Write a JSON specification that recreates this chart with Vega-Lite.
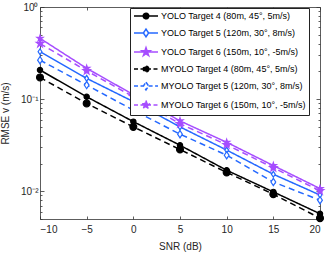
{
  "$schema": "https://vega.github.io/schema/vega-lite/v6.json",
  "width": 280,
  "height": 212,
  "autosize": "none",
  "padding": {"left": 40, "top": 7, "right": 7, "bottom": 34},
  "background": "white",
  "config": {
    "font": "Liberation Sans",
    "view": {"stroke": null},
    "axis": {
      "grid": false,
      "domainColor": "#333333",
      "domainWidth": 0.8,
      "tickColor": "#333333",
      "tickWidth": 0.8,
      "labelColor": "#262626",
      "labelFont": "Liberation Sans",
      "labelFontSize": 10,
      "titleFont": "Liberation Sans",
      "titleFontSize": 10,
      "titleFontWeight": "normal",
      "titleColor": "#262626"
    }
  },
  "data": {
    "values": [
      {"snr": -10, "rmse": 0.207, "series": "YOLO Target 4 (80m, 45°, 5m/s)"},
      {"snr": -5, "rmse": 0.106, "series": "YOLO Target 4 (80m, 45°, 5m/s)"},
      {"snr": 0, "rmse": 0.057, "series": "YOLO Target 4 (80m, 45°, 5m/s)"},
      {"snr": 5, "rmse": 0.0316, "series": "YOLO Target 4 (80m, 45°, 5m/s)"},
      {"snr": 10, "rmse": 0.0169, "series": "YOLO Target 4 (80m, 45°, 5m/s)"},
      {"snr": 15, "rmse": 0.00984, "series": "YOLO Target 4 (80m, 45°, 5m/s)"},
      {"snr": 20, "rmse": 0.0057, "series": "YOLO Target 4 (80m, 45°, 5m/s)"},
      {"snr": -10, "rmse": 0.327, "series": "YOLO Target 5 (120m, 30°, 8m/s)"},
      {"snr": -5, "rmse": 0.168, "series": "YOLO Target 5 (120m, 30°, 8m/s)"},
      {"snr": 0, "rmse": 0.094, "series": "YOLO Target 5 (120m, 30°, 8m/s)"},
      {"snr": 5, "rmse": 0.05, "series": "YOLO Target 5 (120m, 30°, 8m/s)"},
      {"snr": 10, "rmse": 0.028, "series": "YOLO Target 5 (120m, 30°, 8m/s)"},
      {"snr": 15, "rmse": 0.0153, "series": "YOLO Target 5 (120m, 30°, 8m/s)"},
      {"snr": 20, "rmse": 0.0091, "series": "YOLO Target 5 (120m, 30°, 8m/s)"},
      {"snr": -10, "rmse": 0.457, "series": "YOLO Target 6 (150m, 10°, -5m/s)"},
      {"snr": -5, "rmse": 0.216, "series": "YOLO Target 6 (150m, 10°, -5m/s)"},
      {"snr": 0, "rmse": 0.112, "series": "YOLO Target 6 (150m, 10°, -5m/s)"},
      {"snr": 5, "rmse": 0.058, "series": "YOLO Target 6 (150m, 10°, -5m/s)"},
      {"snr": 10, "rmse": 0.034, "series": "YOLO Target 6 (150m, 10°, -5m/s)"},
      {"snr": 15, "rmse": 0.019, "series": "YOLO Target 6 (150m, 10°, -5m/s)"},
      {"snr": 20, "rmse": 0.0107, "series": "YOLO Target 6 (150m, 10°, -5m/s)"},
      {"snr": -10, "rmse": 0.172, "series": "MYOLO Target 4 (80m, 45°, 5m/s)"},
      {"snr": -5, "rmse": 0.0898, "series": "MYOLO Target 4 (80m, 45°, 5m/s)"},
      {"snr": 0, "rmse": 0.05, "series": "MYOLO Target 4 (80m, 45°, 5m/s)"},
      {"snr": 5, "rmse": 0.0284, "series": "MYOLO Target 4 (80m, 45°, 5m/s)"},
      {"snr": 10, "rmse": 0.016, "series": "MYOLO Target 4 (80m, 45°, 5m/s)"},
      {"snr": 15, "rmse": 0.0093, "series": "MYOLO Target 4 (80m, 45°, 5m/s)"},
      {"snr": 20, "rmse": 0.0051, "series": "MYOLO Target 4 (80m, 45°, 5m/s)"},
      {"snr": -10, "rmse": 0.265, "series": "MYOLO Target 5 (120m, 30°, 8m/s)"},
      {"snr": -5, "rmse": 0.142, "series": "MYOLO Target 5 (120m, 30°, 8m/s)"},
      {"snr": 0, "rmse": 0.076, "series": "MYOLO Target 5 (120m, 30°, 8m/s)"},
      {"snr": 5, "rmse": 0.0417, "series": "MYOLO Target 5 (120m, 30°, 8m/s)"},
      {"snr": 10, "rmse": 0.0246, "series": "MYOLO Target 5 (120m, 30°, 8m/s)"},
      {"snr": 15, "rmse": 0.0126, "series": "MYOLO Target 5 (120m, 30°, 8m/s)"},
      {"snr": 20, "rmse": 0.008, "series": "MYOLO Target 5 (120m, 30°, 8m/s)"},
      {"snr": -10, "rmse": 0.4, "series": "MYOLO Target 6 (150m, 10°, -5m/s)"},
      {"snr": -5, "rmse": 0.203, "series": "MYOLO Target 6 (150m, 10°, -5m/s)"},
      {"snr": 0, "rmse": 0.106, "series": "MYOLO Target 6 (150m, 10°, -5m/s)"},
      {"snr": 5, "rmse": 0.054, "series": "MYOLO Target 6 (150m, 10°, -5m/s)"},
      {"snr": 10, "rmse": 0.032, "series": "MYOLO Target 6 (150m, 10°, -5m/s)"},
      {"snr": 15, "rmse": 0.018, "series": "MYOLO Target 6 (150m, 10°, -5m/s)"},
      {"snr": 20, "rmse": 0.0101, "series": "MYOLO Target 6 (150m, 10°, -5m/s)"}
    ]
  },
  "resolve": {
    "axis": {"x": "independent", "y": "independent"},
    "scale": {"color": "independent", "strokeDash": "independent", "shape": "independent", "fill": "independent", "size": "independent"},
    "legend": {"color": "independent", "strokeDash": "independent", "shape": "independent", "fill": "independent", "size": "independent"}
  },
  "layer": [
    {
      "mark": {"type": "line", "strokeWidth": 1.5},
      "encoding": {
        "x": {
          "field": "snr", "type": "quantitative",
          "scale": {"domain": [-10, 20], "nice": false, "zero": false},
          "axis": {"orient": "bottom", "values": [-10, -5, 0, 5, 10, 15, 20], "tickSize": -3, "labelPadding": 8, "title": "SNR (dB)", "titlePadding": 7}
        },
        "y": {
          "field": "rmse", "type": "quantitative",
          "scale": {"type": "log", "domain": [0.005, 1], "nice": false},
          "axis": {
            "orient": "left",
            "values": [0.005, 0.006, 0.007, 0.008, 0.009, 0.01, 0.02, 0.03, 0.04, 0.05, 0.06, 0.07, 0.08, 0.09, 0.1, 0.2, 0.3, 0.4, 0.5, 0.6, 0.7, 0.8, 0.9, 1],
            "labelExpr": "datum.value == 1 ? '10⁰' : datum.value == 0.1 ? '10⁻¹' : datum.value == 0.01 ? '10⁻²' : ''",
            "tickSize": {"condition": {"test": "datum.value == 1 || datum.value == 0.1 || datum.value == 0.01", "value": -4}, "value": -2},
            "labelPadding": 6,
            "title": "RMSE v (m/s)",
            "titleX": -30
          }
        },
        "color": {
          "field": "series", "type": "nominal",
          "scale": {
            "domain": ["YOLO Target 4 (80m, 45°, 5m/s)", "YOLO Target 5 (120m, 30°, 8m/s)", "YOLO Target 6 (150m, 10°, -5m/s)", "MYOLO Target 4 (80m, 45°, 5m/s)", "MYOLO Target 5 (120m, 30°, 8m/s)", "MYOLO Target 6 (150m, 10°, -5m/s)"],
            "range": ["#000000", "#2468ff", "#a64dff", "#000000", "#2468ff", "#a64dff"]
          },
          "legend": null
        },
        "strokeDash": {
          "field": "series", "type": "nominal",
          "scale": {
            "domain": ["YOLO Target 4 (80m, 45°, 5m/s)", "YOLO Target 5 (120m, 30°, 8m/s)", "YOLO Target 6 (150m, 10°, -5m/s)", "MYOLO Target 4 (80m, 45°, 5m/s)", "MYOLO Target 5 (120m, 30°, 8m/s)", "MYOLO Target 6 (150m, 10°, -5m/s)"],
            "range": [[1, 0], [1, 0], [1, 0], [6, 4], [6, 4], [6, 4]]
          },
          "legend": null
        }
      }
    },
    {
      "mark": {"type": "point", "filled": false, "strokeWidth": 1.2, "opacity": 1},
      "encoding": {
        "x": {
          "field": "snr", "type": "quantitative",
          "axis": {"orient": "top", "values": [-10, -5, 0, 5, 10, 15, 20], "tickSize": -3, "labels": false, "title": null}
        },
        "y": {
          "field": "rmse", "type": "quantitative",
          "axis": {
            "orient": "right",
            "values": [0.005, 0.006, 0.007, 0.008, 0.009, 0.01, 0.02, 0.03, 0.04, 0.05, 0.06, 0.07, 0.08, 0.09, 0.1, 0.2, 0.3, 0.4, 0.5, 0.6, 0.7, 0.8, 0.9, 1],
            "tickSize": {"condition": {"test": "datum.value == 1 || datum.value == 0.1 || datum.value == 0.01", "value": -4}, "value": -2},
            "labels": false,
            "title": null
          }
        },
        "color": {
          "field": "series", "type": "nominal",
          "scale": {
            "domain": ["YOLO Target 4 (80m, 45°, 5m/s)", "YOLO Target 5 (120m, 30°, 8m/s)", "YOLO Target 6 (150m, 10°, -5m/s)", "MYOLO Target 4 (80m, 45°, 5m/s)", "MYOLO Target 5 (120m, 30°, 8m/s)", "MYOLO Target 6 (150m, 10°, -5m/s)"],
            "range": ["#000000", "#2468ff", "#a64dff", "#000000", "#2468ff", "#a64dff"]
          },
          "legend": null
        },
        "fill": {
          "field": "series", "type": "nominal",
          "scale": {
            "domain": ["YOLO Target 4 (80m, 45°, 5m/s)", "YOLO Target 5 (120m, 30°, 8m/s)", "YOLO Target 6 (150m, 10°, -5m/s)", "MYOLO Target 4 (80m, 45°, 5m/s)", "MYOLO Target 5 (120m, 30°, 8m/s)", "MYOLO Target 6 (150m, 10°, -5m/s)"],
            "range": ["#000000", "#ffffff", "#a64dff", "#000000", "#ffffff", "#a64dff"]
          },
          "legend": null
        },
        "shape": {
          "field": "series", "type": "nominal",
          "scale": {
            "domain": ["YOLO Target 4 (80m, 45°, 5m/s)", "YOLO Target 5 (120m, 30°, 8m/s)", "YOLO Target 6 (150m, 10°, -5m/s)", "MYOLO Target 4 (80m, 45°, 5m/s)", "MYOLO Target 5 (120m, 30°, 8m/s)", "MYOLO Target 6 (150m, 10°, -5m/s)"],
            "range": ["circle", "M0,-1L0.65,0L0,1L-0.65,0Z", "M0,-1L0.223,-0.307L0.951,-0.309L0.361,0.117L0.588,0.809L0,0.38L-0.588,0.809L-0.361,0.117L-0.951,-0.309L-0.223,-0.307Z", "circle", "M0,-1L0.65,0L0,1L-0.65,0Z", "M0,-1L0.223,-0.307L0.951,-0.309L0.361,0.117L0.588,0.809L0,0.38L-0.588,0.809L-0.361,0.117L-0.951,-0.309L-0.223,-0.307Z"]
          },
          "legend": null
        },
        "size": {
          "field": "series", "type": "nominal",
          "scale": {
            "domain": ["YOLO Target 4 (80m, 45°, 5m/s)", "YOLO Target 5 (120m, 30°, 8m/s)", "YOLO Target 6 (150m, 10°, -5m/s)", "MYOLO Target 4 (80m, 45°, 5m/s)", "MYOLO Target 5 (120m, 30°, 8m/s)", "MYOLO Target 6 (150m, 10°, -5m/s)"],
            "range": [28, 60, 90, 28, 60, 90]
          },
          "legend": null
        }
      }
    },
    {
      "mark": {"type": "point", "filled": false, "opacity": 0, "size": 64, "strokeWidth": 1.5},
      "encoding": {
        "x": {"field": "snr", "type": "quantitative", "axis": null},
        "y": {"field": "rmse", "type": "quantitative", "axis": null},
        "color": {
          "field": "series", "type": "nominal",
          "scale": {
            "domain": ["YOLO Target 4 (80m, 45°, 5m/s)", "YOLO Target 5 (120m, 30°, 8m/s)", "YOLO Target 6 (150m, 10°, -5m/s)", "MYOLO Target 4 (80m, 45°, 5m/s)", "MYOLO Target 5 (120m, 30°, 8m/s)", "MYOLO Target 6 (150m, 10°, -5m/s)"],
            "range": ["#000000", "#2468ff", "#a64dff", "#000000", "#2468ff", "#a64dff"]
          },
          "legend": {
            "title": null,
            "orient": "none",
            "legendX": 90,
            "legendY": 1,
            "padding": 3,
            "strokeColor": "#222222",
            "fillColor": "white",
            "labelFont": "Liberation Sans",
            "labelFontSize": 9,
            "labelColor": "#000000",
            "labelLimit": 0,
            "labelOffset": 18,
            "rowPadding": 4,
            "symbolSize": 64,
            "symbolOpacity": 1,
            "symbolStrokeWidth": 1.5
          }
        },
        "strokeDash": {
          "field": "series", "type": "nominal",
          "scale": {
            "domain": ["YOLO Target 4 (80m, 45°, 5m/s)", "YOLO Target 5 (120m, 30°, 8m/s)", "YOLO Target 6 (150m, 10°, -5m/s)", "MYOLO Target 4 (80m, 45°, 5m/s)", "MYOLO Target 5 (120m, 30°, 8m/s)", "MYOLO Target 6 (150m, 10°, -5m/s)"],
            "range": [[1, 0], [1, 0], [1, 0], [4, 2.5], [4, 2.5], [4, 2.5]]
          }
        },
        "fill": {
          "field": "series", "type": "nominal",
          "scale": {
            "domain": ["YOLO Target 4 (80m, 45°, 5m/s)", "YOLO Target 5 (120m, 30°, 8m/s)", "YOLO Target 6 (150m, 10°, -5m/s)", "MYOLO Target 4 (80m, 45°, 5m/s)", "MYOLO Target 5 (120m, 30°, 8m/s)", "MYOLO Target 6 (150m, 10°, -5m/s)"],
            "range": ["#000000", "#ffffff", "#a64dff", "#000000", "#ffffff", "#a64dff"]
          }
        },
        "shape": {
          "field": "series", "type": "nominal",
          "scale": {
            "domain": ["YOLO Target 4 (80m, 45°, 5m/s)", "YOLO Target 5 (120m, 30°, 8m/s)", "YOLO Target 6 (150m, 10°, -5m/s)", "MYOLO Target 4 (80m, 45°, 5m/s)", "MYOLO Target 5 (120m, 30°, 8m/s)", "MYOLO Target 6 (150m, 10°, -5m/s)"],
            "range": [
              "M-1,0H5M2.7,0A0.7,0.7,0,1,1,1.3,0A0.7,0.7,0,1,1,2.7,0Z",
              "M-1,0H1.35M2.65,0H5M2,-0.95L2.65,0L2,0.95L1.35,0Z",
              "M-1,0H5M2,-1.1L2.25,-0.34L3.05,-0.34L2.4,0.13L2.65,0.89L2,0.42L1.35,0.89L1.6,0.13L0.95,-0.34L1.75,-0.34Z",
              "M-1,0H5M2.7,0A0.7,0.7,0,1,1,1.3,0A0.7,0.7,0,1,1,2.7,0Z",
              "M-1,0H1.35M2.65,0H5M2,-0.95L2.65,0L2,0.95L1.35,0Z",
              "M-1,0H5M2,-1.1L2.25,-0.34L3.05,-0.34L2.4,0.13L2.65,0.89L2,0.42L1.35,0.89L1.6,0.13L0.95,-0.34L1.75,-0.34Z"
            ]
          }
        }
      }
    }
  ]
}
